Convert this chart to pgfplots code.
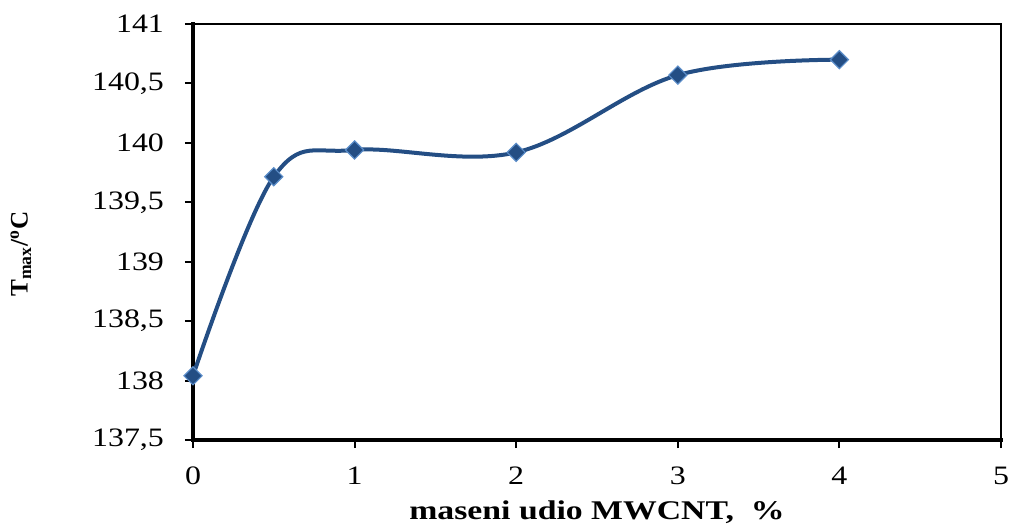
\documentclass[border=0pt]{standalone}
\usepackage{fontspec}
\setmainfont{Liberation Serif}
\newfontfamily\tickfont{Liberation Serif}[FakeStretch=1.2]
\newfontfamily\labfont{Liberation Serif}[FakeStretch=1.25]
\usepackage{pgfplots}
\pgfplotsset{compat=1.18}
\definecolor{ln}{RGB}{36,78,132}
\definecolor{mk}{RGB}{90,140,200}
\begin{document}
\begin{tikzpicture}
\begin{axis}[
  scale only axis, width=404pt, height=208pt,
  xmin=0, xmax=5, ymin=137.5, ymax=141,
  xtick={0,1,2,3,4,5}, ytick={137.5,138,...,141},
  /pgf/number format/assume math mode=true,
  /pgf/number format/use comma,
  tick align=outside, tick style={black, line width=1pt},
  major tick length=4pt,
  axis line style={line width=1pt},
  ticklabel style={font=\tickfont\fontsize{13.3}{15}\selectfont},
  xtick pos=bottom, ytick pos=left,
  yticklabel style={anchor=east, xshift=-7pt},
  xticklabel style={anchor=north, yshift=-6pt},
  xlabel={\labfont\fontsize{13.5}{16}\selectfont\textbf{maseni udio MWCNT,\ \ \%}},
  ylabel={\fontsize{12.6}{15}\selectfont\textbf{T\textsubscript{max}/\textsuperscript{o}C}},
  xlabel style={at={(rel axis cs:0.5,-0.173)}, anchor=center},
  ylabel style={at={(rel axis cs:-0.213,0.447)}, anchor=center, rotate=0},
  clip=false,
]
\draw[line width=1.6pt, line cap=rect] (rel axis cs:0,1) -- (rel axis cs:0,0) -- (rel axis cs:1,0);
\addplot[ln, line width=2pt, smooth, tension=0.6, mark=square*,
  mark size=3.2pt, mark options={rotate=45, fill=ln, draw=mk, line width=0.6pt}]
  coordinates {(0,138.04) (0.5,139.715) (1,139.94) (2,139.92) (3,140.57) (4,140.70)};
\coordinate (bl) at (rel axis cs:0,0);
\coordinate (tr) at (rel axis cs:1,1);
\end{axis}
\pgfresetboundingbox
\path[use as bounding box] ([shift={(-96.5pt,-43pt)}]bl) rectangle ([shift={(6pt,12pt)}]tr);
\end{tikzpicture}
\end{document}
